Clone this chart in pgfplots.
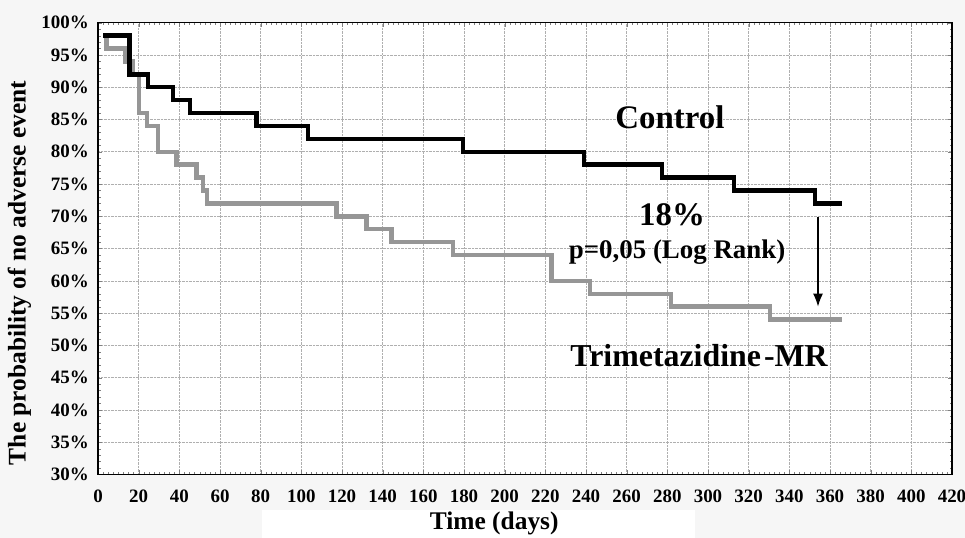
\documentclass[border=0pt]{standalone}
\usepackage{pgfplots}
\pgfplotsset{compat=1.18}
\usepackage{fontspec}
\setmainfont{Liberation Serif}
\usetikzlibrary{arrows.meta}
\definecolor{trimgray}{RGB}{150,150,150}
\definecolor{bggray}{RGB}{246,246,246}
\definecolor{gridgray}{RGB}{175,175,175}

\begin{document}
\begin{tikzpicture}
% page background, white band behind the x label
\fill[bggray] (0,0) rectangle (965bp,538bp);
\useasboundingbox (0,0) rectangle (965bp,538bp);
\fill[white] (262bp,0) rectangle (695bp,28bp);

\begin{axis}[
    at={(98bp,63.5bp)}, anchor=south west,
    scale only axis,
    width=854bp, height=451.8bp,
    xmin=0, xmax=420, ymin=30, ymax=100,
    xtick={0,20,...,420},
    ytick={30,35,...,100},
    minor x tick num=7,
    minor y tick num=4,
    tick align=inside,
    major tick length=4bp, minor tick length=2.5bp,
    grid=major,
    major grid style={densely dotted, gridgray, line width=0.6bp},
    axis line style={line width=1.2bp},
    axis background/.style={fill=white},
    /pgf/number format/assume math mode=true,
    tick label style={font=\fontsize{19}{19}\selectfont\bfseries},
    yticklabel={\pgfmathprintnumber{\tick}\%},
    yticklabel style={anchor=east, inner sep=0pt, xshift=-9bp},
    xticklabel style={anchor=north, inner sep=0pt, yshift=-15bp},
    xlabel={Time (days)},
    ylabel={The probability of no adverse event},
    xlabel style={font=\fontsize{25.5}{25.5}\selectfont\bfseries,
        at={(axis description cs:0.464,-0.108)}, anchor=center},
    ylabel style={font=\fontsize{25.5}{25.5}\selectfont\bfseries,
        at={(axis description cs:-0.092,0.446)}, anchor=center},
    clip=false,
]

% Trimetazidine-MR (grey)
\addplot[const plot, line width=4.5bp, trimgray] coordinates {
    (2.5,98) (4.3,96) (13.3,94) (17.2,92) (20.2,86) (24,84) (29.5,80)
    (38.7,78) (48.5,76) (51.6,74) (53.5,72) (117.4,70) (132.1,68)
    (144.4,66) (174.6,64) (223.1,60) (242,58) (281.8,56) (330.5,54)
    (366,54)
};

% Control (black)
\addplot[const plot, line width=4.5bp, black] coordinates {
    (2.5,98) (15.4,92) (24.6,90) (36.9,88) (45.2,86) (78,84) (103.4,82)
    (179.4,80) (239,78) (277.4,76) (312.8,74) (352.7,72) (366,72)
};

% annotations
\node[font=\fontsize{33}{33}\selectfont\bfseries] at (axis cs:281.3,85.4) {Control};
\node[font=\fontsize{33}{33}\selectfont\bfseries] at (axis cs:282.3,70.2) {18\%};
\node[font=\fontsize{27}{27}\selectfont\bfseries] at (axis cs:284.8,64.4) {p=0,05 (Log Rank)};
\node[font=\fontsize{32}{32}\selectfont\bfseries] at (axis cs:295.6,48.4) {Trimetazidine\hspace{3bp}-MR};
\draw[line width=1.5bp, -{Latex[length=13bp,width=10bp]}] (axis cs:354.1,69.9) -- (axis cs:354.1,56);

\end{axis}
\end{tikzpicture}
\end{document}
